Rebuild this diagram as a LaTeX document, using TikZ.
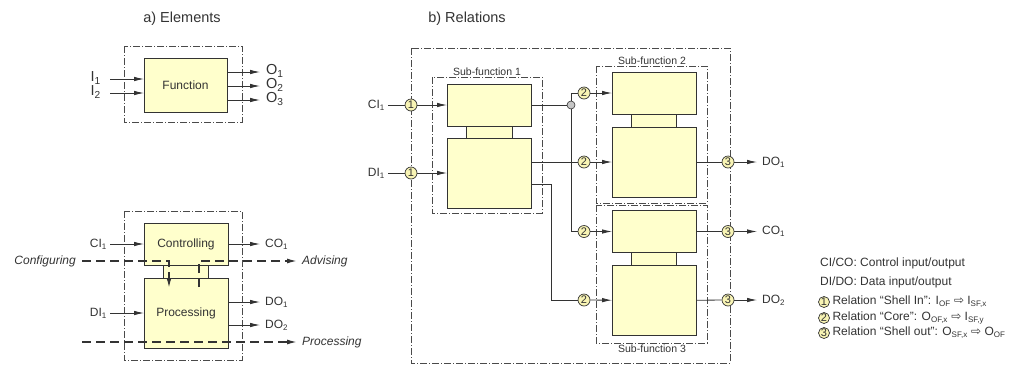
\documentclass[tikz,border=0pt]{standalone}
\usepackage{fontspec}
\setmainfont{Liberation Sans}
\newfontfamily\symbfont{DejaVu Sans}
\usetikzlibrary{arrows.meta,positioning}

\definecolor{blockfill}{HTML}{FFFFCC}
\definecolor{relfill}{HTML}{F8F4B4}
\definecolor{linegray}{HTML}{333333}
\definecolor{framegray}{HTML}{4A4A4A}

\tikzset{
	txt/.style={font=\fontsize{12}{14}\selectfont, text=linegray, inner sep=2pt},
	big/.style={txt, font=\fontsize{14.5}{16}\selectfont},
	itl/.style={txt, font=\fontsize{12}{14}\selectfont\itshape},
	title/.style={font=\fontsize{14.5}{17}\selectfont, text=linegray},
	small/.style={font=\fontsize{10.5}{12}\selectfont, text=linegray, inner sep=1.5pt},
	block/.style={draw=linegray, fill=blockfill, line width=0.8pt, inner sep=0pt, outer sep=0pt, txt},
	frame/.style={draw=framegray, line width=0.6pt, dash pattern=on 7pt off 2pt on 1pt off 2pt},
	flow/.style={draw=linegray, line width=0.8pt},
	arr/.style={flow, -{Latex[length=10pt,width=4.5pt]}},
	task/.style={draw=linegray, line width=1.4pt, dash pattern=on 9pt off 5pt, -{Latex[length=10pt,width=5pt]}},
	rel/.style={circle, draw=linegray, fill=relfill, line width=0.7pt, minimum size=12pt, inner sep=0pt, font=\fontsize{11}{12}\selectfont, text=linegray},
	junction/.style={circle, draw=linegray, fill=gray!45, line width=0.6pt, minimum size=8pt, inner sep=0pt},
}

\begin{document}
\begin{tikzpicture}[x=1pt, y=-1pt]
	\useasboundingbox (0,0) rectangle (1016,365);

	% a) elements
	\node[title] (ta) at (182,19) {a) Elements};

	\draw[frame] (124,46) rectangle (242,122);
	\node[block, minimum width=83pt, minimum height=54pt] (fn) at (185.5,85) {Function};

	\coordinate (i1) at (110,79);
	\coordinate (i2) at (110,93);
	\node[big, left=7pt, yshift=1pt] (ti1) at (i1) {I\textsubscript{1}};
	\node[big, left=7pt, yshift=1pt] (ti2) at (i2) {I\textsubscript{2}};
	\draw[arr] (i1) -- (i1 -| fn.west);
	\draw[arr] (i2) -- (i2 -| fn.west);

	\foreach \k/\y in {1/72, 2/86, 3/100} {
		\coordinate (o\k) at (260,\y);
		\draw[arr] (fn.east |- o\k) -- (o\k);
		\node[big, right=4pt, yshift=1pt] (to\k) at (o\k) {O\textsubscript{\k}};
	}

	\draw[frame] (124,211) rectangle (242,360);
	\node[block, minimum width=84pt, minimum height=42pt] (ctl) at (186,244) {Controlling};
	\node[block, minimum width=45pt, minimum height=13pt, below=0pt of ctl] (lnk) {};
	\node[block, minimum width=84pt, minimum height=70pt, below=0pt of lnk] (proc) {Processing};

	\coordinate (ci) at (110,244);
	\coordinate (di) at (110,313);
	\node[txt, left=1pt] (tci) at (ci) {CI\textsubscript{1}};
	\node[txt, left=1pt] (tdi) at (di) {DI\textsubscript{1}};
	\draw[arr] (ci) -- (ctl);
	\draw[arr] (di) -- (proc);

	\coordinate (co) at (260,244);
	\coordinate (do1) at (260,302);
	\coordinate (do2) at (260,325);
	\draw[arr] (ctl) -- (co);
	\draw[arr] (proc.east |- do1) -- (do1);
	\draw[arr] (proc.east |- do2) -- (do2);
	\node[txt, right=3pt] (tco) at (co) {CO\textsubscript{1}};
	\node[txt, right=3pt] (tdo1) at (do1) {DO\textsubscript{1}};
	\node[txt, right=3pt] (tdo2) at (do2) {DO\textsubscript{2}};

	\coordinate (cfg) at (82,261);
	\coordinate (cfgend) at (169,288);
	\coordinate (adv0) at (199,287);
	\coordinate (adv) at (297,261);
	\coordinate (prc0) at (82,342);
	\coordinate (prc) at (297,342);
	\draw[task] (cfg) -| (cfgend);
	\draw[task] (adv0) |- (adv);
	\draw[task] (prc0) -- (prc);
	\node[itl, left=4pt] (tcfg) at (cfg) {Configuring};
	\node[itl, right=3pt] (tadv) at (adv) {Advising};
	\node[itl, right=3pt] (tprc) at (prc) {Processing};

	% b) relations
	\node[title] (tb) at (467,19) {b) Relations};
	\draw[frame] (411,48) rectangle (730,363);

	\draw[frame] (432,77) rectangle (542,213);
	\node[small, above] (tsf1) at (487,77) {Sub-function 1};
	\node[block, minimum width=84pt, minimum height=42pt] (sf1t) at (489,105) {};
	\node[block, minimum width=46pt, minimum height=12pt, below=0pt of sf1t] (sf1l) {};
	\node[block, minimum width=84pt, minimum height=70pt, below=0pt of sf1l] (sf1b) {};

	\draw[frame] (596,66) rectangle (707,203);
	\node[small, above] (tsf2) at (652,66) {Sub-function 2};
	\node[block, minimum width=84pt, minimum height=42pt] (sf2t) at (654,93) {};
	\node[block, minimum width=45pt, minimum height=13pt, below=0pt of sf2t] (sf2l) {};
	\node[block, minimum width=84pt, minimum height=70pt, below=0pt of sf2l] (sf2b) {};

	\draw[frame] (596,205) rectangle (707,343);
	\node[small, below] (tsf3) at (652,343) {Sub-function 3};
	\node[block, minimum width=84pt, minimum height=42pt] (sf3t) at (654,231.5) {};
	\node[block, minimum width=45pt, minimum height=13pt, below=0pt of sf3t] (sf3l) {};
	\node[block, minimum width=84pt, minimum height=70pt, below=0pt of sf3l] (sf3b) {};

	% shell in
	\coordinate (cib) at (388,105);
	\coordinate (dib) at (388,173);
	\node[txt, left=1pt] (tcib) at (cib) {CI\textsubscript{1}};
	\node[txt, left=1pt] (tdib) at (dib) {DI\textsubscript{1}};
	\node[rel] (r1a) at (411,105) {1};
	\node[rel] (r1b) at (411,173) {1};
	\draw[flow] (cib) -- (r1a);
	\draw[flow] (dib) -- (r1b);
	\draw[arr] (r1a) -- (sf1t);
	\draw[arr] (r1b) -- (sf1b);

	% core
	\node[junction] (jn) at (571,105) {};
	\node[rel] (r2a) at (584,93) {2};
	\node[rel] (r2b) at (584,162) {2};
	\node[rel] (r2c) at (584,231.5) {2};
	\node[rel] (r2d) at (584,300) {2};
	\coordinate (bend) at (551,184);
	\draw[flow] (sf1t) -- (jn);
	\draw[flow] (jn) |- (r2a);
	\draw[flow] (jn) |- (r2c);
	\draw[flow] (sf1b.east |- r2b) -- (r2b);
	\draw[flow] (sf1b.east |- bend) -- (bend) |- (r2d);
	\draw[arr] (r2a) -- (sf2t);
	\draw[arr] (r2b) -- (sf2b);
	\draw[arr] (r2c) -- (sf3t);
	\draw[arr] (r2d) -- (sf3b);

	% shell out
	\node[rel] (r3a) at (728,162) {3};
	\node[rel] (r3b) at (728,231.5) {3};
	\node[rel] (r3c) at (728,300) {3};
	\coordinate (bdo1) at (757,162);
	\coordinate (bco) at (757,231.5);
	\coordinate (bdo2) at (757,300);
	\draw[flow] (sf2b) -- (r3a);
	\draw[flow] (sf3t) -- (r3b);
	\draw[flow] (sf3b) -- (r3c);
	\draw[arr] (r3a) -- (bdo1);
	\draw[arr] (r3b) -- (bco);
	\draw[arr] (r3c) -- (bdo2);
	\node[txt, right=3pt] (tbdo1) at (bdo1) {DO\textsubscript{1}};
	\node[txt, right=3pt] (tbco) at (bco) {CO\textsubscript{1}};
	\node[txt, right=3pt] (tbdo2) at (bdo2) {DO\textsubscript{2}};

	% legend
	\node[txt, anchor=west] (lg1) at (818,263) {CI/CO: Control input/output};
	\node[txt, anchor=west] (lg2) at (818,282) {DI/DO: Data input/output};
	\node[rel, minimum size=11pt] (k1) at (824,302) {1};
	\node[rel, minimum size=11pt] (k2) at (824,318) {2};
	\node[rel, minimum size=11pt] (k3) at (824,333) {3};
	\node[txt, right=0.5pt] (lk1) at (k1.east) {Relation “Shell In”: I\textsubscript{OF} {\symbfont ⇨} I\textsubscript{SF,x}};
	\node[txt, right=0.5pt] (lk2) at (k2.east) {Relation “Core”: O\textsubscript{OF,x} {\symbfont ⇨} I\textsubscript{SF,y}};
	\node[txt, right=0.5pt] (lk3) at (k3.east) {Relation “Shell out”: O\textsubscript{SF,x} {\symbfont ⇨} O\textsubscript{OF}};
\end{tikzpicture}
\end{document}
